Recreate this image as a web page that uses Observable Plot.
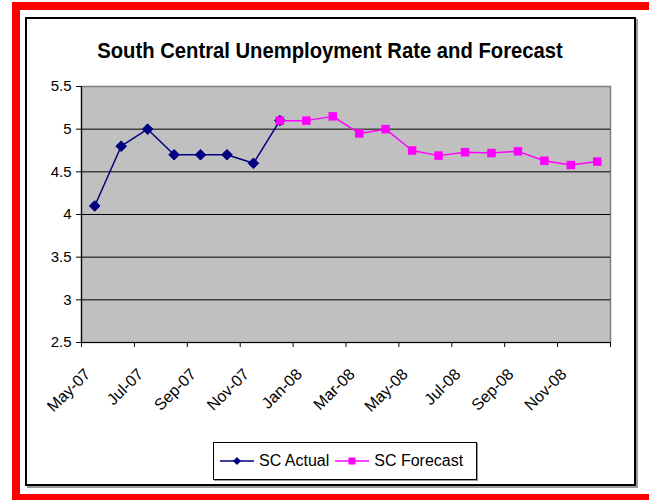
<!DOCTYPE html>
<html>
<head>
<meta charset="utf-8">
<script src="https://cdn.jsdelivr.net/npm/d3@7"></script>
<script src="https://cdn.jsdelivr.net/npm/@observablehq/plot@0.6"></script>
<style>
  html, body { margin: 0; padding: 0; background: #fff; }
  #page { position: relative; width: 649px; height: 500px; overflow: hidden; background: #fff;
          font-family: "Liberation Sans", Arial, sans-serif; }
  #red { position: absolute; left: 12px; top: 2px; width: 645px; height: 498px; box-sizing: border-box;
         border-style: solid; border-color: #ff0000; border-width: 8px 6px 6px 8px; }
  #box { position: absolute; left: 25px; top: 17px; width: 611px; height: 469px; box-sizing: border-box;
         border: 2px solid #000; box-shadow: 2px 2px 0 #999; }
  #title { position: absolute; left: 0; width: 660px; top: 38px; text-align: center;
           font-weight: bold; font-size: 22px; color: #000; transform: scaleX(0.92); transform-origin: 330px 0; }
  #chart { position: absolute; left: 0; top: 0; }
  #legend { position: absolute; left: 213px; top: 442px; width: 264px; height: 38px; box-sizing: border-box;
            border: 1px solid #000; display: flex; align-items: center; padding-left: 5px;
            font-size: 16px; color: #000; box-shadow: 1px 1px 0 #999; background: #fff; }
  #legend .item { display: flex; align-items: center; margin-right: 5px; }
  #legend svg { margin-right: 4px; }
</style>
</head>
<body>
<div id="page">
  <div id="red"></div>
  <div id="box"></div>
  <div id="title">South Central Unemployment Rate and Forecast</div>
  <div id="chart"></div>
  <div id="legend"></div>
</div>
<script>
// ---- data ----
const months = ["May-07","Jun-07","Jul-07","Aug-07","Sep-07","Oct-07","Nov-07","Dec-07",
                "Jan-08","Feb-08","Mar-08","Apr-08","May-08","Jun-08","Jul-08","Aug-08",
                "Sep-08","Oct-08","Nov-08","Dec-08"];
const actualMonths = ["May-07","Jun-07","Jul-07","Aug-07","Sep-07","Oct-07","Nov-07","Dec-07"];
const actualValues = [4.1, 4.8, 5.0, 4.7, 4.7, 4.7, 4.6, 5.1];
const forecastMonths = ["Dec-07","Jan-08","Feb-08","Mar-08","Apr-08","May-08","Jun-08",
                        "Jul-08","Aug-08","Sep-08","Oct-08","Nov-08","Dec-08"];
const forecastValues = [5.1, 5.1, 5.15, 4.95, 5.0, 4.75, 4.69, 4.73, 4.72, 4.74, 4.63, 4.58, 4.62];
const yTicks = [2.5, 3, 3.5, 4, 4.5, 5, 5.5];
const xLabelMonths = ["May-07","Jul-07","Sep-07","Nov-07","Jan-08","Mar-08","May-08","Jul-08","Sep-08","Nov-08"];
const seriesNames = ["SC Actual", "SC Forecast"];
const seriesColors = ["#000080", "#ff00ff"];

// ---- build tables ----
const pos = m => months.indexOf(m) + 0.5; // category centre
const actual = actualMonths.map((m, i) => ({x: pos(m), y: actualValues[i]}));
const forecast = forecastMonths.map((m, i) => ({x: pos(m), y: forecastValues[i]}));
const boundaryTicks = d3.range(0, months.length + 1, 2);
const labelTicks = xLabelMonths.map(pos);

const font = '"Liberation Sans", Arial, sans-serif';

const chart = Plot.plot({
  width: 649, height: 500,
  marginLeft: 81, marginRight: 39, marginTop: 86, marginBottom: 158,
  style: {background: "transparent", fontFamily: font, color: "#000", overflow: "visible"},
  x: {type: "linear", domain: [0, months.length]},
  y: {domain: [2.5, 5.5]},
  marks: [
    Plot.frame({fill: "#c0c0c0", stroke: "#808080", strokeWidth: 1.5}),
    Plot.gridY(yTicks.slice(1, -1), {stroke: "#000", strokeOpacity: 1, strokeWidth: 1}),
    Plot.ruleX([0], {stroke: "#000", strokeWidth: 1.2}),
    Plot.ruleY([2.5], {stroke: "#000", strokeWidth: 1.2}),
    Plot.axisY({ticks: yTicks, tickFormat: d => String(d), tickSize: 5, tickPadding: 5, fontSize: 15, label: null, stroke: "#000"}),
    Plot.axisX({ticks: boundaryTicks, tickFormat: () => "", tickSize: 5, label: null, stroke: "#000"}),
    Plot.axisX({ticks: labelTicks, tickFormat: d => months[Math.round(d - 0.5)], tickSize: 0,
                tickRotate: -45, tickPadding: 29, dx: -7, fontSize: 16, label: null}),
    Plot.line(actual, {x: "x", y: "y", stroke: seriesColors[0], strokeWidth: 1.5}),
    Plot.dot(actual, {x: "x", y: "y", symbol: "diamond2", r: 4.8, fill: seriesColors[0], stroke: seriesColors[0], strokeWidth: 1}),
    Plot.line(forecast, {x: "x", y: "y", stroke: seriesColors[1], strokeWidth: 1.5}),
    Plot.dot(forecast, {x: "x", y: "y", symbol: "square", r: 4.8, fill: seriesColors[1], stroke: "none"})
  ]
});
document.getElementById("chart").appendChild(chart);

// ---- legend ----
const legend = document.getElementById("legend");
const symbols = ["diamond", "square"];
seriesNames.forEach((name, i) => {
  const item = document.createElement("div");
  item.className = "item";
  const ns = "http://www.w3.org/2000/svg";
  const svg = document.createElementNS(ns, "svg");
  svg.setAttribute("width", 36); svg.setAttribute("height", 12);
  const line = document.createElementNS(ns, "line");
  line.setAttribute("x1", 1); line.setAttribute("x2", 35); line.setAttribute("y1", 6); line.setAttribute("y2", 6);
  line.setAttribute("stroke", seriesColors[i]); line.setAttribute("stroke-width", 1.5);
  svg.appendChild(line);
  const sym = document.createElementNS(ns, "path");
  sym.setAttribute("d", symbols[i] === "diamond" ? "M18,2L22,6L18,10L14,6Z" : "M14.5,2.5H21.5V9.5H14.5Z");
  sym.setAttribute("fill", seriesColors[i]);
  svg.appendChild(sym);
  item.appendChild(svg);
  const t = document.createElement("span");
  t.textContent = name;
  item.appendChild(t);
  legend.appendChild(item);
});
</script>
</body>
</html>
